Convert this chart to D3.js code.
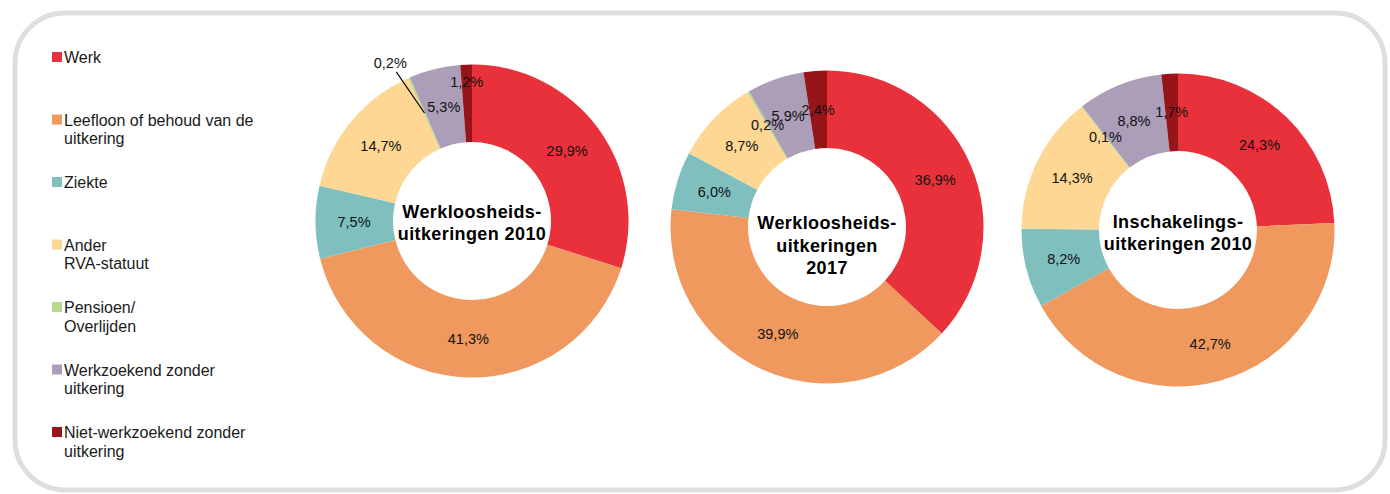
<!DOCTYPE html>
<html><head><meta charset="utf-8">
<script src="https://cdn.jsdelivr.net/npm/d3@7"></script>
<style>
html,body{margin:0;padding:0;background:#fff;}
text{font-family:"Liberation Sans",Arial,sans-serif;}
</style></head>
<body>
<svg id="chart" width="1390" height="494"></svg>
<script>
// ---- data ----
const categories = ["Werk","Leefloon of behoud van de uitkering","Ziekte","Ander RVA-statuut","Pensioen/ Overlijden","Werkzoekend zonder uitkering","Niet-werkzoekend zonder uitkering"];
const legendLines = [["Werk"],["Leefloon of behoud van de","uitkering"],["Ziekte"],["Ander","RVA-statuut"],["Pensioen/","Overlijden"],["Werkzoekend zonder","uitkering"],["Niet-werkzoekend zonder","uitkering"]];
const colors = ["#E8313A","#F0995F","#7FC0BF","#FDD793","#B8D98E","#AC9EB8","#971419"];
const valuesWU2010 = [29.9,41.3,7.5,14.7,0.2,5.3,1.2];
const valuesWU2017 = [36.9,39.9,6.0,8.7,0.2,5.9,2.4];
const valuesIU2010 = [24.3,42.7,8.2,14.3,0.1,8.8,1.7];
const titleWU2010 = ["Werkloosheids-","uitkeringen 2010"];
const titleWU2017 = ["Werkloosheids-","uitkeringen","2017"];
const titleIU2010 = ["Inschakelings-","uitkeringen 2010"];

// ---- layout ----
const svg = d3.select("#chart");
const W = 1390, H = 494;
const charts = [
  {values: valuesWU2010, title: titleWU2010, cx: 472, cy: 221, titleY: [-3,19]},
  {values: valuesWU2017, title: titleWU2017, cx: 827, cy: 227, titleY: [2,25,47]},
  {values: valuesIU2010, title: titleIU2010, cx: 1178, cy: 230, titleY: [-2,20]}
];
// label adjustments (Excel moved a few labels to avoid overlap)
const labelAdjust = [
  {chart: 0, cat: 6, r: 139, dAngle: 0, leader: false},
  {chart: 0, cat: 4, r: 178, dAngle: -3.6, leader: true}
];

// rounded frame
svg.append("rect").attr("x",15).attr("y",13).attr("width",1370).attr("height",477)
  .attr("rx",50).attr("ry",50).attr("fill","none").attr("stroke","#dedede").attr("stroke-width",5);

const color = d3.scaleOrdinal().domain(categories).range(colors);
const outerR = 156.5, innerR = 79, labelR = 118;
const arc = d3.arc().innerRadius(innerR).outerRadius(outerR);
const labelArc = d3.arc().innerRadius(labelR).outerRadius(labelR);
const pie = d3.pie().sort(null).value(d => d.v);
const fmt = v => d3.format(".1f")(v).replace(".", ",") + "%";

charts.forEach((c, ci) => {
  const g = svg.append("g").attr("transform", `translate(${c.cx},${c.cy})`);
  const arcs = pie(c.values.map((v, i) => ({v, cat: categories[i], i})));
  g.selectAll("path.slice").data(arcs).join("path").attr("class","slice")
    .attr("d", arc).attr("fill", d => color(d.data.cat));

  arcs.forEach(d => {
    const adj = labelAdjust.find(a => a.chart === ci && a.cat === d.data.i);
    let [x, y] = labelArc.centroid(d);
    if (adj) {
      const mid = (d.startAngle + d.endAngle) / 2 + adj.dAngle * Math.PI / 180;
      const lx = adj.r * Math.sin(mid), ly = -adj.r * Math.cos(mid);
      if (adj.leader) {
        g.append("line").attr("x1", lx + 6).attr("y1", ly + 9).attr("x2", x).attr("y2", y)
          .attr("stroke", "#000").attr("stroke-width", 1.2);
      }
      x = lx; y = ly;
    }
    g.append("text").attr("x", x).attr("y", y).attr("dy", "0.36em")
      .attr("text-anchor", "middle").attr("font-size", 14.5).attr("fill", "#111")
      .text(fmt(d.data.v));
  });

  c.title.forEach((t, k) => {
    g.append("text").attr("x", 0).attr("y", c.titleY[k]).attr("text-anchor", "middle")
      .attr("font-size", 18).attr("font-weight", "bold").attr("letter-spacing", "0.4px")
      .attr("fill", "#000").text(t);
  });
});

// legend
const ly = d3.scaleLinear().domain([0, categories.length - 1]).range([63, 438]);
const lg = svg.append("g");
categories.forEach((cat, i) => {
  const y = ly(i);
  lg.append("rect").attr("x", 52).attr("y", y - 11).attr("width", 10).attr("height", 10)
    .attr("fill", color(cat));
  legendLines[i].forEach((line, k) => {
    lg.append("text").attr("x", 64).attr("y", y + k * 18.5).attr("font-size", 16)
      .attr("fill", "#1a1a1a").text(line);
  });
});
</script>
</body></html>
